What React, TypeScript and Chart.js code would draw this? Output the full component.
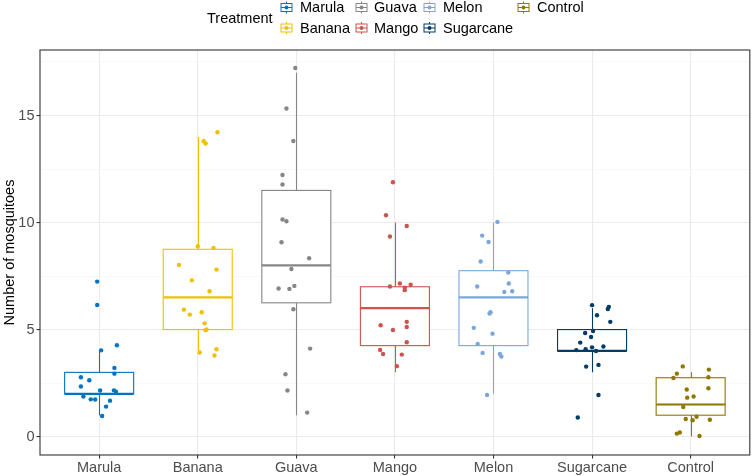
import React, { useEffect, useRef } from "react";
import { Chart, registerables } from "chart.js";
Chart.register(...registerables);

const FONT = "'Liberation Sans', Arial, Helvetica, sans-serif";

const treatments = ["Marula", "Banana", "Guava", "Mango", "Melon", "Sugarcane", "Control"];
const colors = ["#0073C2", "#EFC000", "#868686", "#CD534C", "#7AA6DC", "#003C67", "#8F7700"];

// box statistics
const whiskerLow = [1, 4, 1, 3, 2, 3, 0];
const q1 = [2, 5, 6.25, 4.25, 4.25, 4, 1];
const median = [2, 6.5, 8, 6, 6.5, 4, 1.5];
const q3 = [3, 8.75, 11.5, 7, 7.75, 5, 2.75];
const whiskerHigh = [4, 14, 17, 10, 10, 6, 3];

const yTickValues = [0, 2.5, 5, 7.5, 10, 12.5, 15, 17.5];

// jittered observations
const marulaValues = [7.24, 6.15, 4.03, 4.27, 3.21, 2.94, 2.77, 2.63, 2.34, 2.15, 2.16, 2.1, 1.87, 1.74, 1.73, 1.68, 1.4, 0.96];
const marulaJitter = [-0.02, -0.02, 0.02, 0.18, 0.155, 0.155, -0.185, -0.1, -0.185, 0.01, 0.15, 0.17, -0.16, -0.085, -0.04, 0.11, 0.07, 0.03];
const bananaValues = [14.22, 13.81, 13.69, 8.89, 8.81, 8.02, 7.8, 7.3, 6.79, 5.93, 5.7, 5.81, 5.29, 5.01, 4.97, 3.93, 4.08, 3.79];
const bananaJitter = [0.2, 0.06, 0.08, 0.0, 0.16, -0.19, 0.19, -0.06, 0.12, -0.14, -0.08, 0.04, 0.07, 0.09, 0.08, 0.02, 0.19, 0.17];
const guavaValues = [17.22, 15.33, 13.81, 12.22, 11.78, 10.14, 10.06, 9.08, 8.33, 7.83, 6.92, 6.9, 7.04, 5.95, 4.11, 2.91, 2.15, 1.12];
const guavaJitter = [-0.01, -0.1, -0.03, -0.14, -0.14, -0.14, -0.1, -0.15, 0.13, -0.05, -0.18, -0.07, -0.02, -0.03, 0.14, -0.11, -0.09, 0.11];
const mangoValues = [11.88, 10.34, 9.84, 9.35, 7.15, 7.01, 7.09, 6.96, 6.84, 5.2, 5.36, 5.12, 4.98, 4.41, 4.05, 3.86, 3.83, 3.29];
const mangoJitter = [-0.02, -0.09, 0.12, -0.05, 0.05, -0.05, 0.16, 0.1, 0.1, -0.145, 0.12, 0.12, -0.02, 0.12, -0.15, -0.12, 0.07, 0.02];
const melonValues = [10.03, 9.39, 9.09, 8.18, 7.66, 7.15, 7.01, 6.76, 6.79, 5.81, 5.75, 5.08, 4.81, 4.33, 3.91, 3.86, 3.74, 1.94];
const melonJitter = [0.04, -0.115, -0.05, -0.13, 0.15, 0.155, -0.165, 0.11, 0.19, -0.03, -0.04, -0.2, -0.01, -0.16, -0.11, 0.065, 0.08, -0.065];
const sugarcaneValues = [6.14, 6.06, 5.96, 5.67, 5.36, 4.93, 4.84, 4.65, 4.39, 4.21, 4.08, 4.17, 4.0, 4.04, 3.27, 3.35, 1.94, 0.89];
const sugarcaneJitter = [0, 0.17, 0.16, 0.05, 0.185, 0.01, -0.07, -0.01, -0.12, 0.115, -0.065, 0, 0.04, -0.16, -0.06, 0.065, 0.065, -0.145];
const controlValues = [3.28, 3.13, 2.94, 2.77, 2.74, 2.2, 2.26, 1.82, 1.87, 1.38, 0.82, 0.76, 0.93, 0.79, 0.14, 0.19, 0.03];
const controlJitter = [-0.08, 0.185, -0.14, 0.18, -0.175, -0.04, 0.18, -0.035, 0.03, -0.075, -0.05, 0.02, 0.06, 0.195, -0.14, -0.11, 0.09];

const allValues = [marulaValues, bananaValues, guavaValues, mangoValues, melonValues, sugarcaneValues, controlValues];
const allJitter = [marulaJitter, bananaJitter, guavaJitter, mangoJitter, melonJitter, sugarcaneJitter, controlJitter];

const BOX_HALF = 0.35;

const boxPlugin = {
  id: "boxes",
  beforeDatasetsDraw(chart: any) {
    const { ctx } = chart;
    const x = chart.scales.x;
    const y = chart.scales.y;
    ctx.save();
    treatments.forEach((_, i) => {
      const cx = Math.round(x.getPixelForValue(i + 1)) + 0.5;
      const left = x.getPixelForValue(i + 1 - BOX_HALF);
      const right = x.getPixelForValue(i + 1 + BOX_HALF);
      const yLo = y.getPixelForValue(whiskerLow[i]);
      const yQ1 = y.getPixelForValue(q1[i]);
      const yMed = y.getPixelForValue(median[i]);
      const yQ3 = y.getPixelForValue(q3[i]);
      const yHi = y.getPixelForValue(whiskerHigh[i]);
      ctx.strokeStyle = colors[i];
      ctx.lineWidth = 1.1;
      ctx.beginPath();
      ctx.moveTo(cx, yHi);
      ctx.lineTo(cx, yQ3);
      ctx.moveTo(cx, yQ1);
      ctx.lineTo(cx, yLo);
      ctx.stroke();
      ctx.fillStyle = "#ffffff";
      ctx.fillRect(left, yQ3, right - left, yQ1 - yQ3);
      ctx.strokeRect(left, yQ3, right - left, yQ1 - yQ3);
      ctx.lineWidth = 2.2;
      ctx.beginPath();
      ctx.moveTo(left, yMed);
      ctx.lineTo(right, yMed);
      ctx.stroke();
    });
    ctx.restore();
  },
  afterDraw(chart: any) {
    const { ctx, chartArea } = chart;
    ctx.save();
    // panel border
    ctx.strokeStyle = "#333333";
    ctx.lineWidth = 1.1;
    ctx.strokeRect(chartArea.left, chartArea.top, chartArea.right - chartArea.left, chartArea.bottom - chartArea.top);
    // legend
    ctx.font = `14.5px ${FONT}`;
    ctx.fillStyle = "#000000";
    ctx.textBaseline = "middle";
    ctx.textAlign = "left";
    ctx.fillText("Treatment", 207, 18.5);
    const keyX = [286.5, 361.5, 429.5, 523.5];
    const textX = [300, 374, 443, 537];
    const rowY = [7.5, 28];
    treatments.forEach((t, i) => {
      const col = Math.floor(i / 2);
      const row = i % 2;
      const kx = keyX[col];
      const ky = rowY[row];
      ctx.strokeStyle = colors[i];
      ctx.lineWidth = 1;
      ctx.beginPath();
      ctx.moveTo(kx, ky - 6);
      ctx.lineTo(kx, ky + 6);
      ctx.stroke();
      ctx.fillStyle = "#ffffff";
      ctx.fillRect(kx - 5.5, ky - 4, 11, 8);
      ctx.strokeRect(kx - 5.5, ky - 4, 11, 8);
      ctx.beginPath();
      ctx.moveTo(kx - 5.5, ky);
      ctx.lineTo(kx + 5.5, ky);
      ctx.stroke();
      ctx.fillStyle = colors[i];
      ctx.beginPath();
      ctx.arc(kx, ky, 2, 0, Math.PI * 2);
      ctx.fill();
      ctx.fillStyle = "#000000";
      ctx.fillText(t, textX[col], ky + 0.5);
    });
    ctx.restore();
  },
};

export default function App() {
  const ref = useRef<HTMLCanvasElement>(null);
  useEffect(() => {
    if (!ref.current) return;
    const datasets = treatments.map((t, i) => ({
      label: t,
      data: allValues[i].map((v, k) => ({ x: i + 1 + allJitter[i][k], y: v })),
      backgroundColor: colors[i],
      borderWidth: 0,
      pointRadius: 2.2,
      pointHoverRadius: 2.2,
    }));
    const chart = new Chart(ref.current, {
      type: "scatter",
      data: { datasets },
      options: {
        animation: false,
        responsive: false,
        devicePixelRatio: 1,
        layout: { padding: { top: 50, right: 2, left: 0, bottom: 0 } },
        plugins: { legend: { display: false }, tooltip: { enabled: false } },
        scales: {
          x: {
            type: "linear",
            min: 0.4,
            max: 7.6,
            afterBuildTicks: (s: any) => {
              s.ticks = treatments.map((_, i) => ({ value: i + 1 }));
            },
            afterFit: (s: any) => {
              s.height = 21;
            },
            ticks: {
              autoSkip: false,
              maxRotation: 0,
              color: "#4d4d4d",
              font: { size: 14.5, family: FONT },
              padding: 1,
              callback: (_v: any, idx: number) => treatments[idx],
            },
            grid: { color: "#ebebeb", lineWidth: 1.1, tickColor: "#333333", tickLength: 3.5, drawTicks: true },
            border: { display: false },
          },
          y: {
            type: "linear",
            min: -0.86,
            max: 18.06,
            afterBuildTicks: (s: any) => {
              s.ticks = yTickValues.map((v) => ({ value: v }));
            },
            afterFit: (s: any) => {
              s.width = 40;
            },
            ticks: {
              color: "#4d4d4d",
              font: { size: 14.5, family: FONT },
              padding: 2,
              callback: (v: any) => (v % 5 === 0 ? String(v) : ""),
            },
            grid: {
              color: (c: any) => (c.tick && c.tick.value % 5 === 0 ? "#ebebeb" : "#f4f4f4"),
              lineWidth: (c: any) => (c.tick && c.tick.value % 5 === 0 ? 1.1 : 0.6),
              tickColor: (c: any) => (c.tick && c.tick.value % 5 === 0 ? "#333333" : "rgba(0,0,0,0)"),
              tickLength: 3.5,
              drawTicks: true,
            },
            border: { display: false },
            title: {
              display: true,
              text: "Number of mosquitoes",
              color: "#000000",
              font: { size: 14.5, family: FONT },
              padding: { top: 1, bottom: 0 },
            },
          },
        },
      },
      plugins: [boxPlugin],
    });
    return () => chart.destroy();
  }, []);
  return (
    <div style={{ position: "fixed", left: 0, top: 0, width: 752, height: 476, background: "#fff" }}>
      <canvas ref={ref} width={752} height={476} />
    </div>
  );
}
